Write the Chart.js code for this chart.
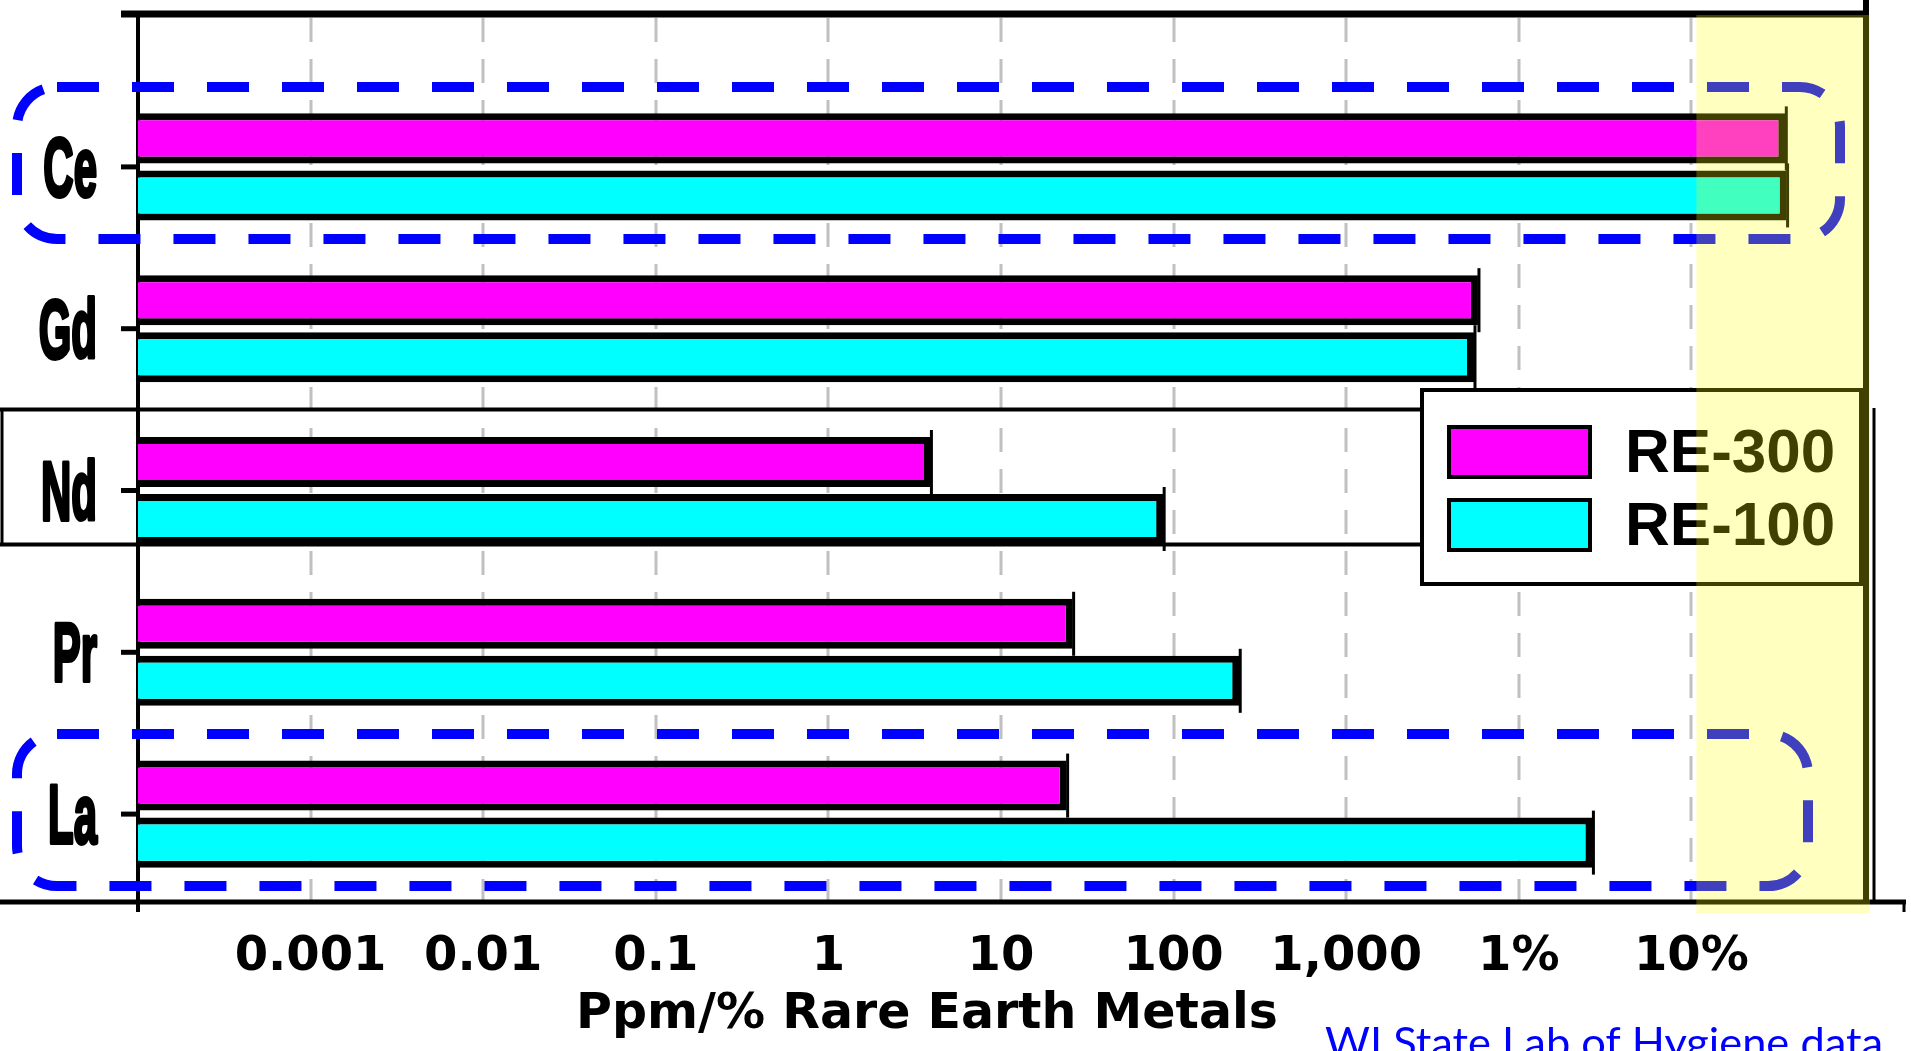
<!DOCTYPE html>
<html>
<head>
<meta charset="utf-8">
<script src="https://cdn.jsdelivr.net/npm/chart.js@4.4.1/dist/chart.umd.min.js"></script>
<style>
  html, body { margin: 0; padding: 0; background: #fff; }
  #wrap { position: relative; width: 1911px; height: 1051px; }
</style>
</head>
<body>
<div id="wrap"><canvas id="ree"></canvas></div>
<script>
// values in ppm
var elements = ['Ce', 'Gd', 'Nd', 'Pr', 'La'];
var re300 = [350000, 5800, 3.9, 26, 24];
var re100 = [356000, 5500, 87, 240, 26700];
var seriesNames = ['RE-300', 'RE-100'];
var tickValues = [0.001, 0.01, 0.1, 1, 10, 100, 1000, 10000, 100000];
var tickLabels = ['0.001', '0.01', '0.1', '1', '10', '100', '1,000', '1%', '10%'];
var axisTitle = 'Ppm/% Rare Earth Metals';
var sourceNote = 'WI State Lab of Hygiene data';
var circled = ['Ce', 'La'];
var yellowFrom = 100000; // 10% and up

var boxRight = { Ce: 1840, La: 1808 };

function line(ctx, x1, y1, x2, y2) {
  ctx.beginPath(); ctx.moveTo(x1, y1); ctx.lineTo(x2, y2); ctx.stroke();
}

var decor = {
  id: 'decor',
  beforeDatasetsDraw: function (chart) {
    var ctx = chart.ctx, a = chart.chartArea, xs = chart.scales.x, ys = chart.scales.y;
    var top = 14, axisY = a.bottom + 7, low = axisY + 10;
    ctx.save();
    // dashed grey decade lines
    ctx.strokeStyle = '#c0c0c0';
    ctx.lineWidth = 3;
    ctx.setLineDash([24, 17]);
    tickValues.forEach(function (v) {
      var px = Math.round(xs.getPixelForValue(v));
      line(ctx, px, top + 4, px, low);
    });
    ctx.setLineDash([]);
    ctx.strokeStyle = '#000';
    // frame
    ctx.lineWidth = 7; line(ctx, 121, top, 1869, top);
    ctx.lineWidth = 4; line(ctx, a.left, top, a.left, low);
    ctx.lineWidth = 6; line(ctx, 1866, 0, 1866, axisY);
    ctx.lineWidth = 3; line(ctx, 1874, 408, 1874, axisY);
    ctx.lineWidth = 5; line(ctx, 0, axisY, 1906, axisY);
    ctx.lineWidth = 3; line(ctx, 1904, axisY, 1904, low);
    // category ticks
    ctx.lineWidth = 5;
    elements.forEach(function (e, i) {
      var py = ys.getPixelForTick(i);
      line(ctx, 121, py, a.left, py);
    });
    // pasted Nd strip border
    var nd = ys.getPixelForTick(elements.indexOf('Nd'));
    ctx.lineWidth = 4;
    line(ctx, 0, nd - 81, 1422, nd - 81);
    line(ctx, 0, nd + 54, 1422, nd + 54);
    ctx.lineWidth = 3;
    line(ctx, 2, nd - 81, 2, nd + 54);
    ctx.restore();
  },
  afterDatasetsDraw: function (chart) {
    var ctx = chart.ctx, a = chart.chartArea, xs = chart.scales.x, ys = chart.scales.y;
    var top = 14, axisY = a.bottom + 7, low = axisY + 10;
    ctx.save();
    // end caps on each bar
    ctx.strokeStyle = '#000';
    ctx.lineWidth = 3;
    chart.data.datasets.forEach(function (ds, di) {
      chart.getDatasetMeta(di).data.forEach(function (el) {
        var h = el.height / 2;
        line(ctx, el.x + 1, el.y - h - 7, el.x + 1, el.y + h + 7);
      });
    });
    // blue dashed highlight boxes
    ctx.strokeStyle = '#0000ff';
    ctx.lineWidth = 10;
    ctx.setLineDash([42, 33]);
    circled.forEach(function (c) {
      var cy = ys.getPixelForTick(elements.indexOf(c));
      ctx.beginPath();
      ctx.roundRect(17, cy - 80, boxRight[c] - 17, 152, 40);
      ctx.stroke();
    });
    ctx.setLineDash([]);
    // legend box
    ctx.fillStyle = '#fff';
    ctx.fillRect(1422, 390, 439, 194);
    ctx.strokeStyle = '#000';
    ctx.lineWidth = 4;
    ctx.strokeRect(1422, 390, 439, 194);
    chart.data.datasets.forEach(function (ds, i) {
      var sy = 427 + i * 73;
      ctx.fillStyle = ds.backgroundColor;
      ctx.fillRect(1449, sy, 141, 50);
      ctx.lineWidth = 4;
      ctx.strokeRect(1449, sy, 141, 50);
      ctx.fillStyle = '#000';
      ctx.font = 'bold 62px "Liberation Sans", Arial, sans-serif';
      ctx.textAlign = 'left';
      ctx.textBaseline = 'alphabetic';
      ctx.fillText(ds.label, 1625, sy + 45);
    });
    // element names, tall narrow type
    ctx.font = 'bold 84px "Liberation Sans Narrow", "Liberation Sans", Arial, sans-serif';
    var sx = 56 / ctx.measureText('Nd').width;
    ctx.fillStyle = '#000';
    ctx.strokeStyle = '#000';
    ctx.lineJoin = 'round';
    ctx.lineWidth = 4;
    ctx.textAlign = 'right';
    ctx.textBaseline = 'alphabetic';
    elements.forEach(function (e, i) {
      var py = ys.getPixelForTick(i);
      ctx.save();
      ctx.translate(97, py + 29);
      ctx.scale(sx, 1);
      ctx.fillText(e, 0, 0);
      ctx.strokeText(e, 0, 0);
      ctx.restore();
    });
    // axis title
    ctx.textAlign = 'center';
    ctx.font = 'bold 49px "DejaVu Sans", Verdana, sans-serif';
    ctx.fillText(axisTitle, 927, 1028);
    // source note, clipped at the bottom edge
    ctx.textAlign = 'left';
    ctx.fillStyle = '#0000ff';
    ctx.font = '44px Lato, "Liberation Sans", sans-serif';
    var fs = 44 * 558 / ctx.measureText(sourceNote).width;
    ctx.font = fs.toFixed(1) + 'px Lato, "Liberation Sans", sans-serif';
    ctx.fillText(sourceNote, 1325, 1027 + fs * 0.72);
    // translucent yellow band over 10%+
    ctx.fillStyle = 'rgba(255, 255, 0, 0.25)';
    var yx = xs.getPixelForValue(yellowFrom) + 5;
    ctx.fillRect(yx, top + 1, 1870 - yx, low - top);
    ctx.restore();
  }
};

var ctx = document.getElementById('ree');
var myChart = new Chart(ctx, {
  type: 'bar',
  data: {
    labels: elements,
    datasets: [{
      label: seriesNames[0],
      data: re300,
      backgroundColor: '#ff00ff',
      borderColor: '#000',
      borderWidth: 7,
      categoryPercentage: 0.705,
      barPercentage: 0.877
    }, {
      label: seriesNames[1],
      data: re100,
      backgroundColor: '#00ffff',
      borderColor: '#000',
      borderWidth: 7,
      categoryPercentage: 0.705,
      barPercentage: 0.877
    }]
  },
  options: {
    indexAxis: 'y',
    responsive: true,
    maintainAspectRatio: false,
    animation: false,
    layout: { padding: { top: 86, right: 47, bottom: 0, left: 0 } },
    plugins: {
      legend: { display: false },
      tooltip: { enabled: false }
    },
    scales: {
      x: {
        type: 'logarithmic',
        position: 'bottom',
        min: 0.0001,
        max: 1000000,
        grid: { display: false, drawTicks: false },
        border: { display: false },
        afterBuildTicks: function (s) {
          s.ticks = tickValues.map(function (v) { return { value: v }; });
        },
        afterFit: function (s) { s.height = 156; },
        ticks: {
          padding: 34,
          autoSkip: false,
          maxRotation: 0,
          color: '#000',
          font: { family: '"DejaVu Sans", Verdana, sans-serif', weight: 'bold', size: 48 },
          callback: function (v) { return tickLabels[tickValues.indexOf(v)]; }
        }
      },
      y: {
        grid: { display: false, drawTicks: false },
        border: { display: false },
        ticks: { display: false },
        afterFit: function (s) { s.width = 138; }
      }
    }
  },
  plugins: [decor]
});
</script>
</body>
</html>
